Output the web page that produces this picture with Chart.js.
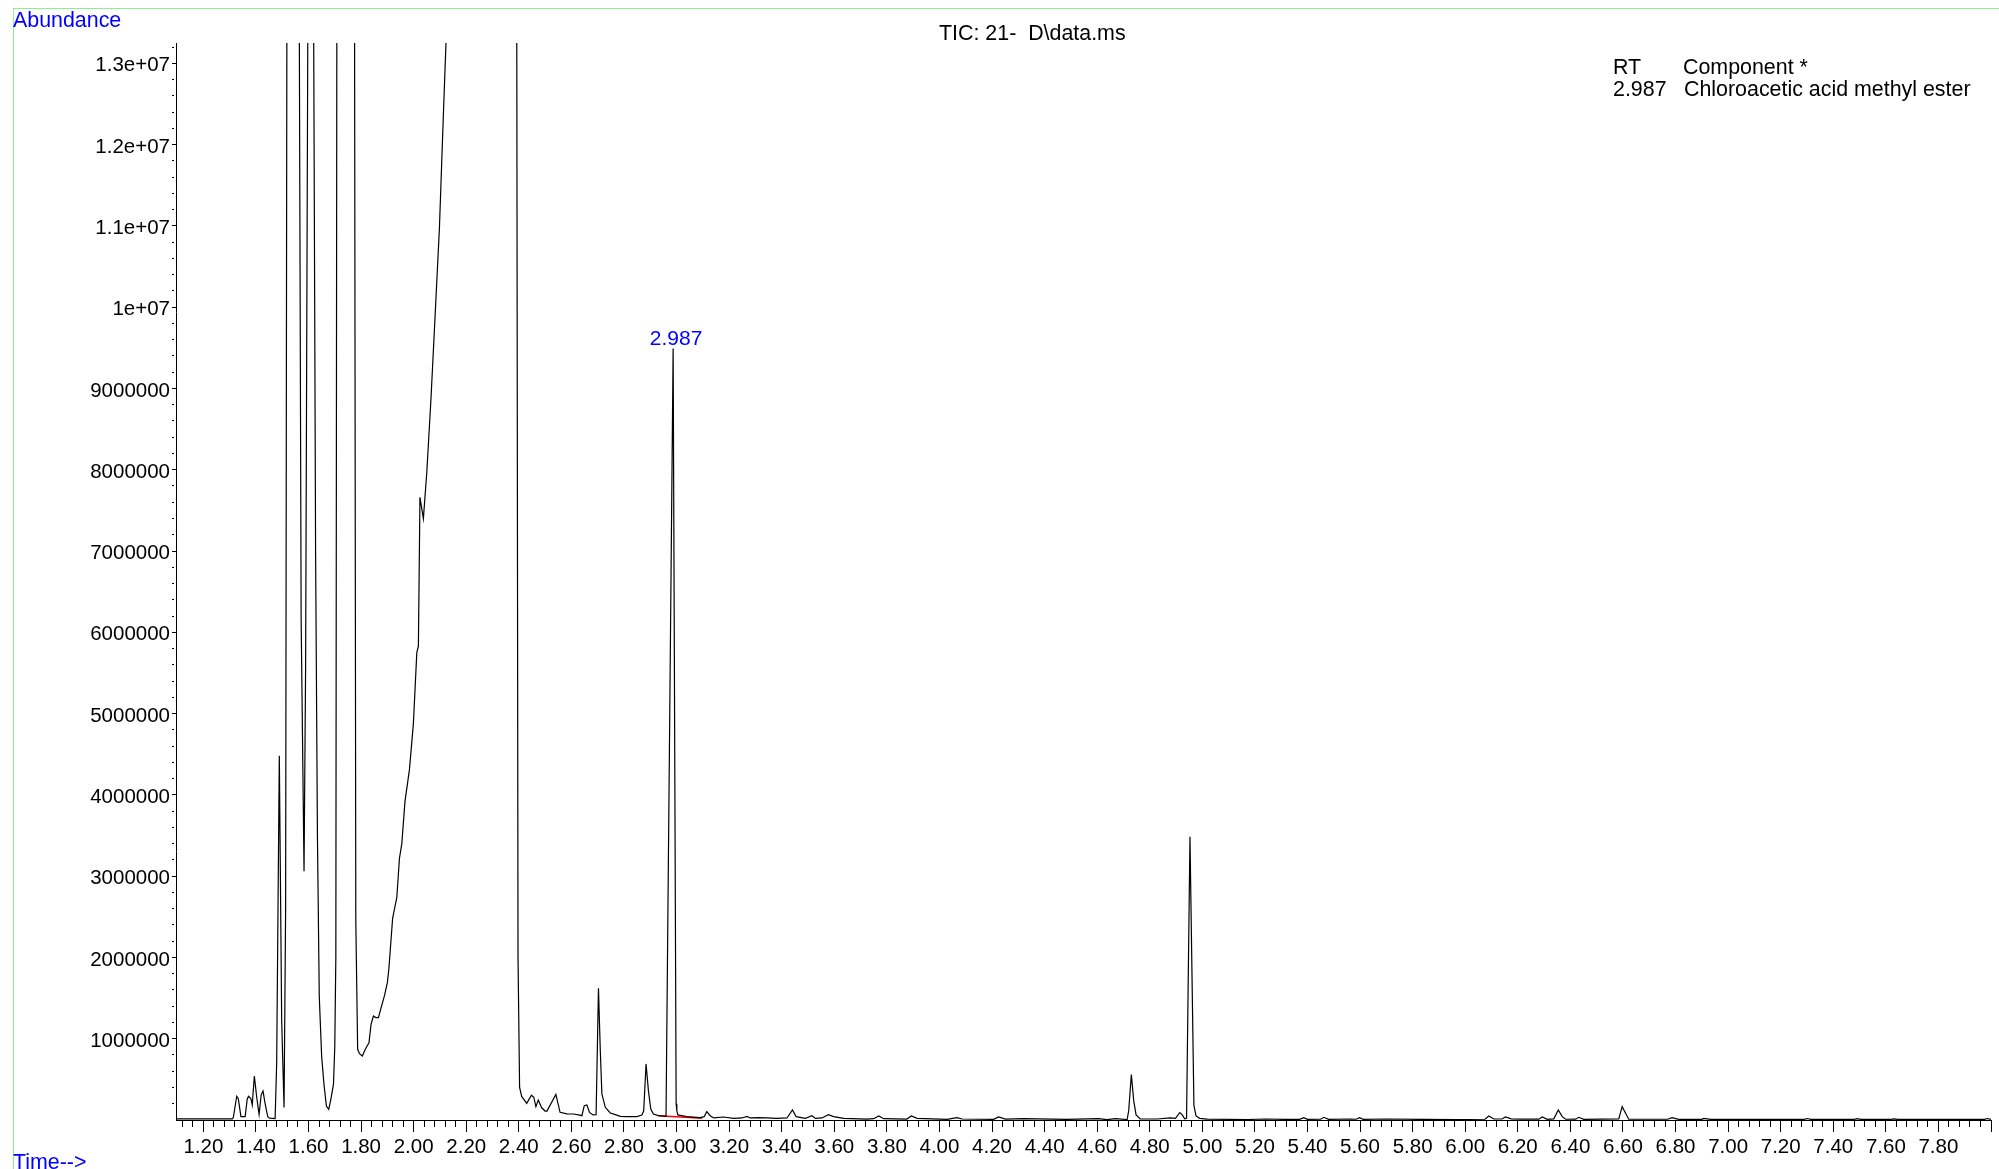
<!DOCTYPE html>
<html>
<head>
<meta charset="utf-8">
<title>TIC: 21-  D\data.ms</title>
<script src="https://cdn.jsdelivr.net/npm/chart.js@4.4.1/dist/chart.umd.min.js"></script>
<style>
  html, body { margin:0; padding:0; background:#fff; overflow:hidden; }
  #wrap { position:relative; width:1999px; height:1169px; }
  #frame { position:absolute; left:13px; top:8px; right:0; bottom:0;
           border-top:1px solid rgb(144,238,144); border-left:1px solid rgb(144,238,144); }
  .txt { position:absolute; font-family:"Liberation Sans", Arial, sans-serif; font-size:21.4px;
         line-height:21px; white-space:pre; color:#000; }
  .blue { color:#0000ff; }
  canvas { position:absolute; left:0; top:0; }
</style>
</head>
<body>
<div id="wrap">
  <div id="frame"></div>
  <canvas id="tic"></canvas>
  <div class="txt blue" style="left:13px; top:10px;">Abundance</div>
  <div class="txt blue" style="left:13px; top:1152px;">Time--&gt;</div>
  <div class="txt" id="title" style="left:939px; top:22.5px;"></div>
  <div id="table"></div>
</div>
<script>
// retention time (min) / abundance
const times = [
  1.096, 1.310, 1.314, 1.327, 1.333, 1.343, 1.359, 1.367, 1.372, 1.381,
  1.386, 1.394, 1.403, 1.412, 1.420, 1.427, 1.435, 1.445, 1.452, 1.473,
  1.479, 1.489, 1.498, 1.507, 1.513, 1.518, 1.540, 1.5645, 1.572, 1.583,
  1.589, 1.598, 1.608, 1.619, 1.627, 1.634, 1.641, 1.650, 1.659, 1.668,
  1.677, 1.685, 1.695, 1.700, 1.704, 1.708, 1.740, 1.775, 1.780, 1.787,
  1.794, 1.805, 1.816, 1.830, 1.838, 1.847, 1.856, 1.866, 1.876, 1.889,
  1.900, 1.906, 1.917, 1.920, 1.936, 1.946, 1.955, 1.967, 1.984, 1.999,
  2.012, 2.018, 2.024, 2.037, 2.050, 2.066, 2.082, 2.098, 2.113, 2.123,
  2.130, 2.260, 2.392, 2.397, 2.403, 2.411, 2.430, 2.448, 2.457, 2.465,
  2.474, 2.487, 2.500, 2.507, 2.541, 2.557, 2.583, 2.608, 2.627, 2.640,
  2.649, 2.659, 2.669, 2.682, 2.694, 2.703, 2.710, 2.716, 2.729, 2.748,
  2.767, 2.786, 2.811, 2.849, 2.868, 2.875, 2.884, 2.893, 2.902, 2.912,
  2.931, 2.960, 2.987, 2.9985, 3.001, 3.005, 3.039, 3.090, 3.105, 3.115,
  3.128, 3.141, 3.179, 3.217, 3.249, 3.268, 3.280, 3.312, 3.344, 3.382,
  3.420, 3.441, 3.455, 3.490, 3.515, 3.528, 3.553, 3.578, 3.597, 3.636,
  3.724, 3.750, 3.769, 3.788, 3.876, 3.893, 3.915, 4.029, 4.067, 4.086,
  4.206, 4.225, 4.251, 4.320, 4.485, 4.606, 4.637, 4.669, 4.714, 4.720,
  4.730, 4.739, 4.748, 4.764, 4.828, 4.878, 4.898, 4.914, 4.923, 4.933,
  4.940, 4.953, 4.968, 4.976, 4.990, 5.018, 5.170, 5.240, 5.320, 5.370,
  5.386, 5.400, 5.450, 5.462, 5.481, 5.563, 5.585, 5.598, 5.612, 5.703,
  5.842, 5.969, 6.075, 6.090, 6.109, 6.140, 6.153, 6.175, 6.210, 6.280,
  6.293, 6.312, 6.337, 6.354, 6.369, 6.382, 6.420, 6.432, 6.451, 6.584,
  6.597, 6.610, 6.622, 6.770, 6.787, 6.812, 6.900, 6.908, 6.933, 7.290,
  7.301, 7.315, 7.480, 7.491, 7.505, 7.620, 7.631, 7.645, 7.975, 7.986,
  8.000
];
const abundance = [
  15000, 15000, 30000, 292000, 262000, 41000, 41000, 260000, 291000, 262000,
  185000, 541000, 280000, 70000, 310000, 357000, 200000, 40000, 22000, 16000,
  705000, 4480000, 1220000, 155000, 2600000, 14000000, 40000000, 14000000, 6180000, 3060000,
  5570000, 14000000, 30000000, 14000000, 7000000, 3500000, 1520000, 784000, 435000, 172000,
  131000, 254000, 439000, 900000, 2000000, 14000000, 40000000, 14000000, 2440000, 870000,
  816000, 787000, 870000, 951000, 1180000, 1280000, 1260000, 1260000, 1380000, 1530000,
  1690000, 1870000, 2350000, 2480000, 2740000, 3220000, 3400000, 3920000, 4310000, 4880000,
  5750000, 5830000, 7660000, 7400000, 7970000, 8880000, 9920000, 10970000, 12360000, 13250000,
  14000000, 40000000, 14000000, 2000000, 400000, 290000, 205000, 305000, 280000, 165000,
  245000, 150000, 110000, 110000, 315000, 95000, 75000, 74000, 62000, 53000,
  176000, 185000, 94000, 62000, 66000, 1620000, 853000, 320000, 156000, 86000,
  66000, 45000, 41000, 41000, 62000, 110000, 690000, 361000, 135000, 74000,
  53000, 45000, 9490000, 200000, 115000, 62000, 41000, 29000, 41000, 103000,
  53000, 25000, 37000, 20000, 25000, 45000, 25000, 29000, 25000, 20000,
  25000, 123000, 41000, 20000, 53000, 20000, 25000, 66000, 41000, 20000,
  12000, 16000, 49000, 16000, 12000, 49000, 20000, 8000, 29000, 12000,
  8000, 37000, 12000, 16000, 8000, 16000, 4000, 16000, 6000, 115000,
  560000, 238000, 62000, 12000, 12000, 25000, 20000, 92000, 66000, 15000,
  20000, 3485000, 180000, 50000, 20000, 10000, 6000, 12000, 7000, 8000,
  28000, 8000, 9000, 33000, 8000, 12000, 9000, 28000, 8000, 12000,
  7000, 6000, 9000, 49000, 12000, 12000, 37000, 14000, 10000, 10000,
  37000, 8000, 14000, 123000, 41000, 9000, 10000, 33000, 8000, 14000,
  164000, 82000, 9000, 9000, 28000, 8000, 8000, 20000, 8000, 8000,
  18000, 8000, 8000, 16000, 8000, 8000, 14000, 8000, 8000, 18000,
  8000
];

// integration baseline under the labelled peak (red)
const baselineTimes = [2.931, 3.097];
const baselineAbundance = [53000, 21000];

// labelled peak
const peakRt = [2.987];
const peakTop = [9490000];

// component table
const tableHeader = ['RT', 'Component *'];
const componentRt = ['2.987'];
const componentName = ['Chloroacetic acid methyl ester'];

const titleText = 'TIC: 21-  D\\data.ms';

const xMin = 1.096, xMax = 8.0, xStep = 0.04;
const yMin = 0, yMax = 13250000, yStep = 200000;

document.getElementById('title').textContent = titleText;
(function(){
  const t = document.getElementById('table');
  const rows = [tableHeader].concat(componentRt.map((r, i) => [r, componentName[i]]));
  rows.forEach((r, i) => {
    const a = document.createElement('div');
    a.className = 'txt'; a.style.left = '1613px'; a.style.top = (56.5 + i*22) + 'px';
    a.textContent = r[0];
    const b = document.createElement('div');
    b.className = 'txt'; b.style.left = (i === 0 ? 1683 : 1684) + 'px'; b.style.top = (56.5 + i*22) + 'px';
    b.textContent = r[1];
    t.appendChild(a); t.appendChild(b);
  });
})();

function isMajorX(v){ return Math.round(v*100) % 20 === 0; }
function isMajorY(v){ return Math.round(v) % 1000000 === 0; }

const peakLabel = {
  id: 'peakLabel',
  afterDatasetsDraw(chart){
    const {ctx, scales:{x, y}} = chart;
    ctx.save();
    ctx.font = '21px "Liberation Sans", Arial, sans-serif';
    ctx.fillStyle = '#0000ff';
    ctx.textAlign = 'center';
    ctx.textBaseline = 'alphabetic';
    peakRt.forEach((rt, i) => {
      ctx.fillText(rt.toFixed(3), x.getPixelForValue(rt) + 3, y.getPixelForValue(peakTop[i]) - 4);
    });
    ctx.restore();
  }
};

const tickFont = { family: '"Liberation Sans", Arial, sans-serif', size: 20.5 };

new Chart(document.getElementById('tic'), {
  type: 'line',
  data: {
    datasets: [
      {
        label: 'TIC',
        data: times.map((t, i) => ({x: t, y: abundance[i]})),
        borderColor: '#000',
        borderWidth: 1.2,
        pointRadius: 0,
        tension: 0
      },
      {
        label: 'baseline',
        data: baselineTimes.map((t, i) => ({x: t, y: baselineAbundance[i]})),
        borderColor: '#ff0000',
        borderWidth: 1.5,
        pointRadius: 0,
        tension: 0
      }
    ]
  },
  options: {
    responsive: true,
    maintainAspectRatio: false,
    animation: false,
    events: [],
    layout: { padding: { top: 43, right: 8, left: 0, bottom: 0 } },
    plugins: { legend: { display: false }, tooltip: { enabled: false } },
    scales: {
      x: {
        type: 'linear',
        min: xMin, max: xMax,
        afterFit: s => { s.height = 49; },
        border: { display: true, color: '#000', width: 1 },
        grid: {
          drawOnChartArea: false, drawTicks: true, tickLength: 12,
          tickColor: '#000', tickWidth: 1,
          tickBorderDash: c => (c.tick && !isMajorX(c.tick.value)) ? [6, 30] : []
        },
        ticks: {
          stepSize: xStep, includeBounds: false, autoSkip: false,
          maxRotation: 0, minRotation: 0, padding: 3,
          color: '#000', font: tickFont,
          callback: v => (isMajorX(v) && v < 7.99) ? v.toFixed(2) : ''
        }
      },
      y: {
        type: 'linear',
        min: yMin, max: yMax,
        afterFit: s => { s.width = 176; },
        // one tick every yStep from 0 up to the top of the axis
        afterBuildTicks: s => {
          const t = [];
          for (let k = 0; k * yStep <= yMax; k++) t.push({ value: k * yStep });
          s.ticks = t;
        },
        border: { display: true, color: '#000', width: 1 },
        grid: {
          drawOnChartArea: false, drawTicks: true, tickLength: 4,
          tickColor: c => (c.tick && c.tick.value === 0) ? 'rgba(0,0,0,0)' : '#000',
          tickWidth: 1,
          tickBorderDash: c => (c.tick && !isMajorY(c.tick.value)) ? [2, 10] : []
        },
        ticks: {
          autoSkip: false, padding: 2, labelOffset: 2.5,
          color: '#000', font: tickFont,
          callback: v => {
            if (v === 0 || !isMajorY(v)) return '';
            if (v >= 10000000) return parseFloat((v/10000000).toFixed(1)) + 'e+07';
            return String(v);
          }
        }
      }
    }
  },
  plugins: [peakLabel]
});
</script>
</body>
</html>
